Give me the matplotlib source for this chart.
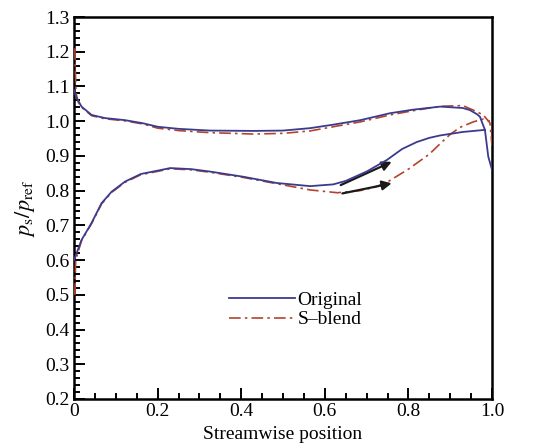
import matplotlib
matplotlib.use("Agg")
import matplotlib.pyplot as plt
from matplotlib.ticker import MultipleLocator, FixedLocator, FixedFormatter

plt.rcParams["font.family"] = ["Liberation Serif", "DejaVu Serif"]
plt.rcParams["mathtext.fontset"] = "stix"

# ── Datos ────────────────────────────────────────────────────────────────────
# Lado superior (presión) – Original
x_sup_orig = [0.0, 0.005, 0.018, 0.042, 0.074, 0.122, 0.165, 0.2, 0.25, 0.325,
              0.43, 0.5, 0.565, 0.62, 0.685, 0.756, 0.81, 0.876, 0.93, 0.947,
              0.964, 0.971, 0.983, 0.991, 1.0]
y_sup_orig = [1.09, 1.07, 1.042, 1.018, 1.009, 1.003, 0.994, 0.984, 0.978, 0.973,
              0.972, 0.973, 0.98, 0.99, 1.003, 1.023, 1.033, 1.042, 1.038, 1.032,
              1.02, 1.013, 0.975, 0.898, 0.86]

# Lado inferior (succión) – Original
x_inf_orig = [0.0, 0.018, 0.042, 0.066, 0.09, 0.122, 0.16, 0.206, 0.23, 0.28,
              0.325, 0.405, 0.485, 0.565, 0.62, 0.65, 0.7, 0.748, 0.785, 0.82,
              0.85, 0.876, 0.93, 0.983]
y_inf_orig = [0.60, 0.658, 0.707, 0.764, 0.797, 0.826, 0.848, 0.859, 0.865, 0.862,
              0.855, 0.840, 0.822, 0.813, 0.818, 0.828, 0.855, 0.888, 0.92, 0.94,
              0.952, 0.959, 0.969, 0.975]

# Lado superior – S-blend
x_sup_sb = [0.002, 0.003, 0.005, 0.01, 0.018, 0.042, 0.074, 0.122, 0.165, 0.2,
            0.25, 0.325, 0.43, 0.5, 0.565, 0.62, 0.685, 0.756, 0.81, 0.876,
            0.93, 0.955, 0.979, 0.995, 1.0]
y_sup_sb = [1.21, 1.15, 1.08, 1.055, 1.04, 1.016, 1.007, 1.001, 0.992, 0.98,
            0.973, 0.967, 0.963, 0.965, 0.972, 0.984, 0.998, 1.018, 1.03, 1.043,
            1.045, 1.032, 1.018, 0.995, 0.93]

# Lado inferior – S-blend
x_inf_sb = [0.002, 0.004, 0.018, 0.042, 0.066, 0.09, 0.122, 0.16, 0.206, 0.23,
            0.28, 0.325, 0.405, 0.485, 0.565, 0.63, 0.684, 0.72, 0.75, 0.8,
            0.85, 0.88, 0.9, 0.923, 0.955, 0.979, 0.995]
y_inf_sb = [0.50, 0.60, 0.656, 0.705, 0.762, 0.795, 0.824, 0.846, 0.857, 0.863,
            0.86, 0.853, 0.838, 0.82, 0.802, 0.794, 0.80, 0.81, 0.825, 0.862,
            0.905, 0.94, 0.962, 0.982, 0.998, 1.006, 1.0]

# Flechas (inicio -> fin)
flechas = [((0.638, 0.816), (0.76, 0.883)),
           ((0.642, 0.792), (0.76, 0.821))]

x_ticks = [0.0, 0.2, 0.4, 0.6, 0.8, 1.0]
x_etiquetas = ["0", "0.2", "0.4", "0.6", "0.8", "1.0"]

color_orig = "#3b3b8e"
color_sb = "#b2442e"

# ── Dibujar ──────────────────────────────────────────────────────────────────
fig = plt.figure(figsize=(5.45, 4.48), dpi=100)
ax = fig.add_axes([0.1358, 0.1094, 0.767, 0.8526])

estilo_sb = dict(color=color_sb, lw=1.2, dashes=(7, 2.5, 1.5, 2.5), zorder=3)
ax.plot(x_sup_sb, y_sup_sb, label="S\u2013blend", **estilo_sb)
ax.plot(x_inf_sb, y_inf_sb, **estilo_sb)
ax.plot(x_sup_orig, y_sup_orig, color=color_orig, lw=1.3, zorder=3.1, label="Original")
ax.plot(x_inf_orig, y_inf_orig, color=color_orig, lw=1.3, zorder=3.1)

for inicio, fin in flechas:
    ax.annotate("", xy=fin, xytext=inicio,
                arrowprops=dict(arrowstyle="-|>", color="#1a1a1a", lw=1.6,
                                mutation_scale=14, shrinkA=0, shrinkB=0))

ax.set_xlim(0, 1.0)
ax.set_ylim(0.2, 1.3)

ax.xaxis.set_major_locator(FixedLocator(x_ticks))
ax.xaxis.set_major_formatter(FixedFormatter(x_etiquetas))
ax.xaxis.set_minor_locator(MultipleLocator(0.05))
ax.yaxis.set_major_locator(MultipleLocator(0.1))
ax.yaxis.set_minor_locator(MultipleLocator(0.02))
ax.yaxis.set_major_formatter(plt.FuncFormatter(lambda v, p: f"{v:.1f}"))

ax.tick_params(which="both", direction="in", top=False, right=False,
               labelsize=14, width=1.4, pad=3)
ax.tick_params(which="major", length=8)
ax.tick_params(which="minor", length=4.5)
for spine in ax.spines.values():
    spine.set_linewidth(1.8)

ax.set_xlabel("Streamwise position", fontsize=14, labelpad=4)
ax.set_ylabel(r"$p_{\rm s}/p_{\rm ref}$", fontsize=16, labelpad=6)

# Orden de la leyenda: Original primero
handles, labels = ax.get_legend_handles_labels()
ax.legend(handles[::-1], labels[::-1], loc="upper left", bbox_to_anchor=(0.37, 0.282),
          frameon=False, fontsize=14, handlelength=3.4, handletextpad=0.15,
          borderpad=0, borderaxespad=0, labelspacing=0.1)

fig.savefig("out.png", dpi=100)
plt.close(fig)
